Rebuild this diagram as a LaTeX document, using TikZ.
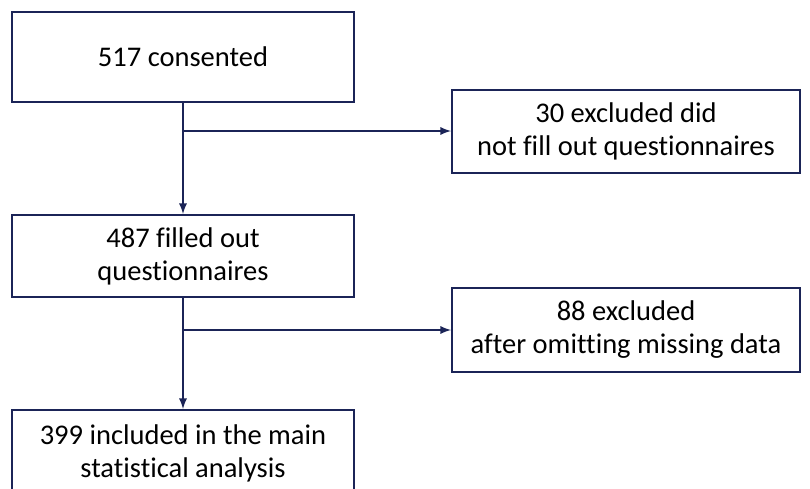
\documentclass[tikz,border=0pt]{standalone}
\usepackage{fontspec}
\setmainfont[Ligatures=CommonOff]{Carlito}
\usepackage{tikz}
\definecolor{navy}{HTML}{1B2457}

\begin{document}
\begin{tikzpicture}[x=1pt, y=-1pt,
    box/.style={draw=navy, line width=2pt, minimum width=342pt, minimum height=84pt,
      align=center, inner sep=0pt, font=\fontsize{28.5}{33}\selectfont},
    flow/.style={draw=navy, line width=2.6pt, ->, >=latex}]
  \useasboundingbox (0, 0) rectangle (810, 488);
  \clip (0, 0) rectangle (810, 488);
  \fill[white] (0, 0) rectangle (810, 488);
  \node[box, minimum height=90pt] (consent) at (183, 57) {517 consented};
  \node[box, minimum width=348pt, minimum height=83pt] (excl1) at (626, 131)
    {30 excluded did\\not fill out questionnaires};
  \node[box, minimum height=82pt] (filled) at (183, 256) {487 filled out\\questionnaires};
  \node[box, minimum width=348pt] (excl2) at (626, 330)
    {88 excluded\\after omitting missing data};
  \node[box, minimum height=86pt] (incl) at (183, 453)
    {399 included in the main\\statistical analysis};
  \draw[flow](consent.south) -- (filled.north);
  \draw[flow](consent.south |- excl1.west) -- (excl1.west);
  \draw[flow](filled.south) -- (incl.north);
  \draw[flow](filled.south |- excl2.west) -- (excl2.west);
\end{tikzpicture}
\end{document}
